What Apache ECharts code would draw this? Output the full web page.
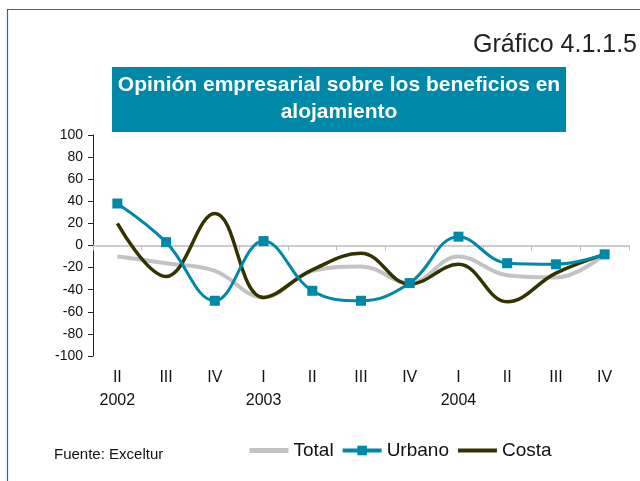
<!DOCTYPE html>
<html>
<head>
<meta charset="utf-8">
<script src="https://cdn.jsdelivr.net/npm/echarts@6/dist/echarts.min.js"></script>
<style>
  html, body { margin: 0; padding: 0; background: #fff; }
  #chart { width: 640px; height: 481px; }
</style>
</head>
<body>
<div id="chart"></div>
<script>
// trimestres 2002 II - 2004 IV
var quarters = ['II', 'III', 'IV', 'I', 'II', 'III', 'IV', 'I', 'II', 'III', 'IV'];
var years = ['2002', '', '', '2003', '', '', '', '2004', '', '', ''];

var total  = [-10, -16, -23, -47, -23, -19, -34, -10, -27, -29, -8];
var urbano = [38, 3, -50, 4, -41, -50, -34, 8, -16, -17, -8];
var costa  = [20, -28, 29, -47, -22, -7, -35, -17, -51, -25, -8];

var yTicks = { min: -100, max: 100, step: 20 };

var catLabels = quarters.map(function (q, i) {
  return years[i] ? q + '\n' + years[i] : q;
});

var myChart = echarts.init(document.getElementById('chart'));

var option = {
  backgroundColor: '#fff',
  animation: false,
  textStyle: { fontFamily: 'Liberation Sans, Arial, sans-serif' },
  graphic: [
    // marco
    { type: 'rect', shape: { x: 7.5, y: 9.5, width: 700, height: 600 },
      style: { fill: 'none', stroke: '#1f6d9e', lineWidth: 1.2 }, silent: true },
    { type: 'text', right: 3, top: 33,
      style: { text: 'Gráfico 4.1.1.5', fill: '#222', font: '25px Liberation Sans, Arial' } },
    { type: 'rect', shape: { x: 112, y: 67, width: 454, height: 65 },
      style: { fill: '#0088a9' }, silent: true },
    { type: 'text', x: 339, y: 99,
      style: { text: 'Opinión empresarial sobre los beneficios en\nalojamiento',
               fill: '#fff', font: 'bold 21px Liberation Sans, Arial',
               align: 'center', verticalAlign: 'middle', lineHeight: 27 } },
    { type: 'text', x: 54, y: 447,
      style: { text: 'Fuente: Exceltur', fill: '#111', font: '15px Liberation Sans, Arial' } }
  ],
  legend: {
    left: 247, top: 441, padding: 0,
    itemWidth: 39, itemHeight: 12, itemGap: 7,
    textStyle: { fontSize: 19, color: '#111' },
    data: [
      { name: 'Total', itemStyle: { opacity: 0 }, lineStyle: { width: 5 } },
      { name: 'Urbano', lineStyle: { width: 4 } },
      { name: 'Costa', itemStyle: { opacity: 0 }, lineStyle: { width: 4 } }
    ]
  },
  grid: { left: 93, right: 11, top: 135, bottom: 125 },
  xAxis: [
    {
      type: 'category', data: quarters, boundaryGap: true,
      axisLine: { onZero: true, lineStyle: { color: '#bdbdbd', width: 1.5 } },
      axisTick: { show: true, inside: false, length: 5, lineStyle: { color: '#bdbdbd' } },
      axisLabel: { show: false }
    },
    {
      type: 'category', data: catLabels, boundaryGap: true, position: 'bottom',
      axisLine: { show: false }, axisTick: { show: false },
      axisLabel: { margin: 10, fontSize: 16, color: '#111', lineHeight: 23, interval: 0 }
    }
  ],
  yAxis: {
    type: 'value', min: yTicks.min, max: yTicks.max, interval: yTicks.step,
    splitLine: { show: false },
    axisLine: { show: true, lineStyle: { color: '#222' } },
    axisTick: { show: true, length: 5, lineStyle: { color: '#222' } },
    axisLabel: { fontSize: 14, color: '#111', margin: 10 }
  },
  series: [
    { name: 'Total', type: 'line', data: total, smooth: 0.4,
      symbol: 'none', z: 1,
      itemStyle: { color: '#c3c3c3' },
      lineStyle: { color: '#c3c3c3', width: 4 } },
    { name: 'Urbano', type: 'line', data: urbano, smooth: 0.4,
      symbol: 'rect', symbolSize: 10, z: 3,
      itemStyle: { color: '#0088a9' },
      lineStyle: { color: '#0088a9', width: 3 } },
    { name: 'Costa', type: 'line', data: costa, smooth: 0.4,
      symbol: 'none', z: 2,
      itemStyle: { color: '#333300' },
      lineStyle: { color: '#333300', width: 3.5 } }
  ]
};

myChart.setOption(option);
</script>
</body>
</html>
